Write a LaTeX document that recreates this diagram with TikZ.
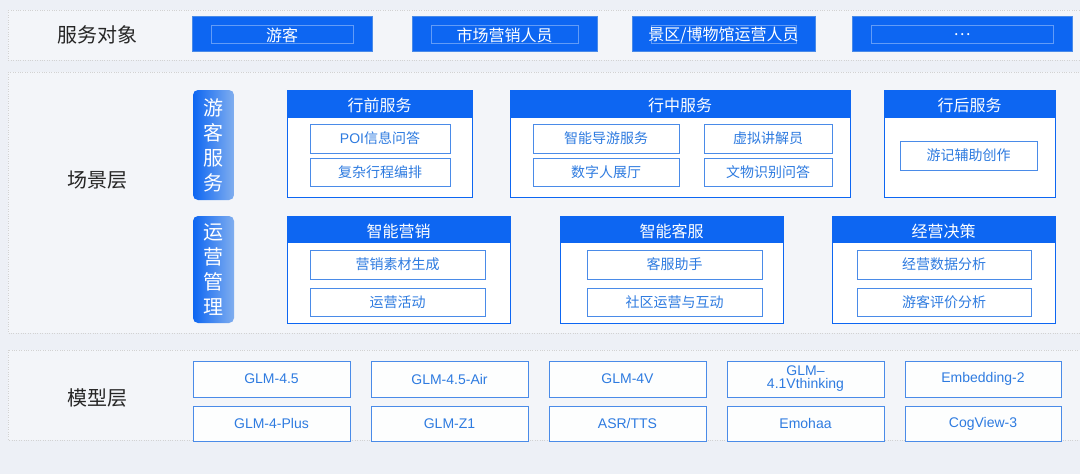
\documentclass[tikz,border=0pt]{standalone}
\usepackage{fontspec}
\setmainfont{Noto Sans CJK SC}
\newfontfamily\latinf{Liberation Sans}
\definecolor{bg}{HTML}{EDF0F6}
\definecolor{band}{HTML}{F3F5F9}
\definecolor{bblue}{HTML}{0D66F2}
\definecolor{tblue}{HTML}{2E7BE0}
\definecolor{lblue}{HTML}{4A8BE8}
\tikzset{x=1pt,y=-1pt,
 bandbox/.style={fill=band,draw=gray!35,dotted},
 topbox/.style={fill=bblue,draw=lblue,line width=0.8pt},
 innerline/.style={draw=white!35!bblue,line width=0.4pt},
 panel/.style={fill=white,draw=bblue,line width=0.8pt},
 item/.style={draw=lblue,fill=white,line width=0.7pt,text=tblue,font=\fontsize{14}{15}\selectfont,inner sep=0pt,text depth=0pt,text height=10pt},
 model/.style={draw=lblue,fill=white!85!band,line width=0.7pt,text=tblue,font=\latinf\fontsize{14}{14}\selectfont,inner sep=0pt,align=center},
 wlab/.style={text=white,font=\fontsize{16}{17}\selectfont,yshift=-1.5pt},
 lay/.style={font=\fontsize{20}{21}\selectfont,text=black!85}}
\newcommand{\bx}[6]{\node[#1,minimum width=#4-#2,minimum height=#5-#3] (#6) at ({(#2+#4)/2},{(#3+#5)/2}) {};}
\begin{document}
\begin{tikzpicture}
\useasboundingbox (0,0) rectangle (1080,474);
\fill[bg] (0,0) rectangle (1080,474);
\draw[bandbox] (8,10) rectangle (1090,60);
\draw[bandbox] (8,72) rectangle (1090,333);
\draw[bandbox] (8,350) rectangle (1090,440);
\node[lay] (l1) at (97,35) {服务对象};
\node[lay] (l2) at (97,180) {场景层};
\node[lay] (l3) at (97,398) {模型层};
% top boxes
\foreach \a/\b/\t/\n in {192/372/{游客}/t1,412/597/{市场营销人员}/t2,632/815/{景区/博物馆运营人员}/t3,852/1072/{…}/t4}{
  \bx{topbox}{\a}{16}{\b}{51}{\n}
  \draw[innerline] (\a+19,25) rectangle (\b-19,43);
  \node[wlab] at (\n) {\t};
}
% pills
\foreach \ya/\yb/\t/\n in {90/200/{游\\客\\服\\务}/p1,216/323/{运\\营\\管\\理}/p2}{
  \shade[left color=bblue,right color=lblue!70!white,rounded corners=5pt] (193,\ya) rectangle (234,\yb);
  \node[text=white,align=center,font=\fontsize{20}{25}\selectfont] (\n) at (213.5,{(\ya+\yb)/2}) {\t};
}
% panels
\newcommand{\pnl}[7]{\bx{panel}{#1}{#2}{#3}{#4}{#6}
  \fill[bblue] (#1,#2) rectangle (#3,#2+#5);
  \node[wlab] at ({(#1+#3)/2},{#2+#5/2}) {#7};}
\pnl{287}{90}{472}{197}{28}{a1}{行前服务}
\pnl{510}{90}{850}{197}{28}{a2}{行中服务}
\pnl{884}{90}{1055}{197}{28}{a3}{行后服务}
\pnl{287}{216}{510}{323}{27}{b1}{智能营销}
\pnl{560}{216}{783}{323}{27}{b2}{智能客服}
\pnl{832}{216}{1055}{323}{27}{b3}{经营决策}
\newcommand{\itm}[6]{\node[item,minimum width=#3-#1,minimum height=#4-#2] (#5) at ({(#1+#3)/2},{(#2+#4)/2}) {#6};}
\itm{310}{124}{450}{153}{i1}{{\latinf POI}信息问答}
\itm{310}{158}{450}{186}{i2}{复杂行程编排}
\itm{533}{124}{679}{153}{i3}{智能导游服务}
\itm{533}{158}{679}{186}{i4}{数字人展厅}
\itm{704}{124}{832}{153}{i5}{虚拟讲解员}
\itm{704}{158}{832}{186}{i6}{文物识别问答}
\itm{900}{141}{1037}{170}{i7}{游记辅助创作}
\itm{310}{250}{485}{279}{j1}{营销素材生成}
\itm{310}{288}{485}{316}{j2}{运营活动}
\itm{587}{250}{762}{279}{j3}{客服助手}
\itm{587}{288}{762}{316}{j4}{社区运营与互动}
\itm{857}{250}{1031}{279}{j5}{经营数据分析}
\itm{857}{288}{1031}{316}{j6}{游客评价分析}
% models
\newcommand{\mdl}[6]{\node[model,minimum width=#3-#1,minimum height=#4-#2] (#5) at ({(#1+#3)/2},{(#2+#4)/2}) {#6};}
\mdl{193}{361}{350}{397}{m1}{GLM-4.5}
\mdl{371}{361}{528}{397}{m2}{GLM-4.5-Air}
\mdl{549}{361}{706}{397}{m3}{GLM-4V}
\mdl{727}{361}{884}{397}{m4}{GLM–\\[-1pt]4.1Vthinking}
\mdl{905}{361}{1061}{397}{m5}{Embedding-2}
\mdl{193}{406}{350}{441}{m6}{GLM-4-Plus}
\mdl{371}{406}{528}{441}{m7}{GLM-Z1}
\mdl{549}{406}{706}{441}{m8}{ASR/TTS}
\mdl{727}{406}{884}{441}{m9}{Emohaa}
\mdl{905}{406}{1061}{441}{m10}{CogView-3}
\end{tikzpicture}
\end{document}
